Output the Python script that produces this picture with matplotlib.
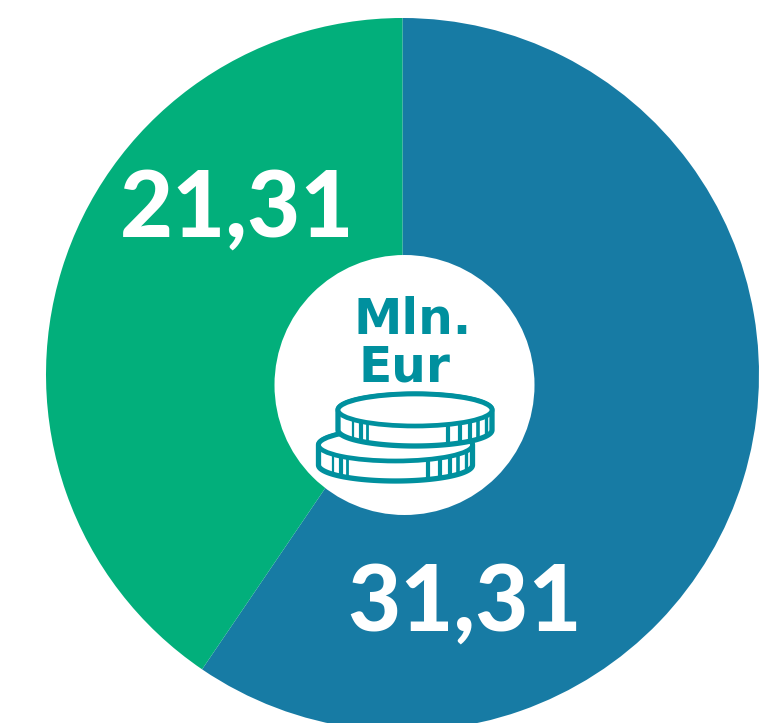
import numpy as np
import matplotlib
matplotlib.use("Agg")
import matplotlib.pyplot as plt
from matplotlib.patches import Circle, Ellipse, Polygon

W, H = 765, 723
values = [31.31, 21.31]
labels = ["31,31", "21,31"]
colors = ["#177BA4", "#02AF7B"]
center_lines = ["Mln.", "Eur"]
accent = "#00909E"

plt.rcParams['font.family'] = ['Lato', 'DejaVu Sans']
fig = plt.figure(figsize=(W/100, H/100), dpi=100, facecolor="white")

# Pie axes: ordinary upward y so the wedge order is not mirrored
cx, cy, R = 402.5, 374.5, 356.5
pie_ax = fig.add_axes([0, 0, 1, 1])
pie_ax.pie(values, colors=colors, startangle=90, counterclock=False,
           center=(cx, H - cy), radius=R, frame=True, wedgeprops=dict(linewidth=0))
pie_ax.set_xlim(0, W)
pie_ax.set_ylim(0, H)
pie_ax.axis("off")

# Overlay in pixel coordinates, y downward
ax = fig.add_axes([0, 0, 1, 1])
ax.set_xlim(0, W)
ax.set_ylim(H, 0)
ax.axis("off")
ax.patch.set_alpha(0)

num = dict(color="white", fontsize=66, fontweight="black", ha="center", va="baseline")
ax.text(237, 237, labels[1], **num)
ax.text(465, 631, labels[0], **num)

ax.add_patch(Circle((404.5, 385), 130, fc="white", ec="none", zorder=3))
mid = dict(color=accent, fontsize=35, fontweight="bold", family="DejaVu Sans",
           ha="center", va="baseline", zorder=4)
ax.text(412.5, 334, center_lines[0], **mid)
ax.text(404, 381, center_lines[1], **mid)

def coin(x, y, z, a=77, b=16, depth=20):
    t = np.linspace(0, np.pi, 120)
    ex, ey = a*np.cos(t), b*np.sin(t)
    # white silhouette
    xs = np.r_[x+ex, x+ex[::-1]]
    ys = np.r_[y+depth+ey, y-ey[::-1]]
    ax.add_patch(Polygon(np.c_[xs, ys], closed=True, fc="white", ec=accent, lw=3.8,
                         joinstyle="round", zorder=z))
    ax.add_patch(Ellipse((x, y), 2*a, 2*b, fc="white", ec=accent, lw=3.4, zorder=z+0.2))
    # reeded edge marks
    for dx, lw in [(-62, 1.6), (-54, 3.0), (-48, 2.0), (33, 3.0), (45, 3.0), (55, 3.0), (63, 2.6), (71, 2.4)]:
        yb = b*np.sqrt(1-(dx/a)**2)
        ax.plot([x+dx, x+dx], [y+yb, y+yb+depth], color=accent, lw=lw,
                solid_capstyle="butt", zorder=z+0.1)

coin(395.5, 445, 5)
coin(415, 410, 6)

fig.savefig("out.png", dpi=100, facecolor="white")
